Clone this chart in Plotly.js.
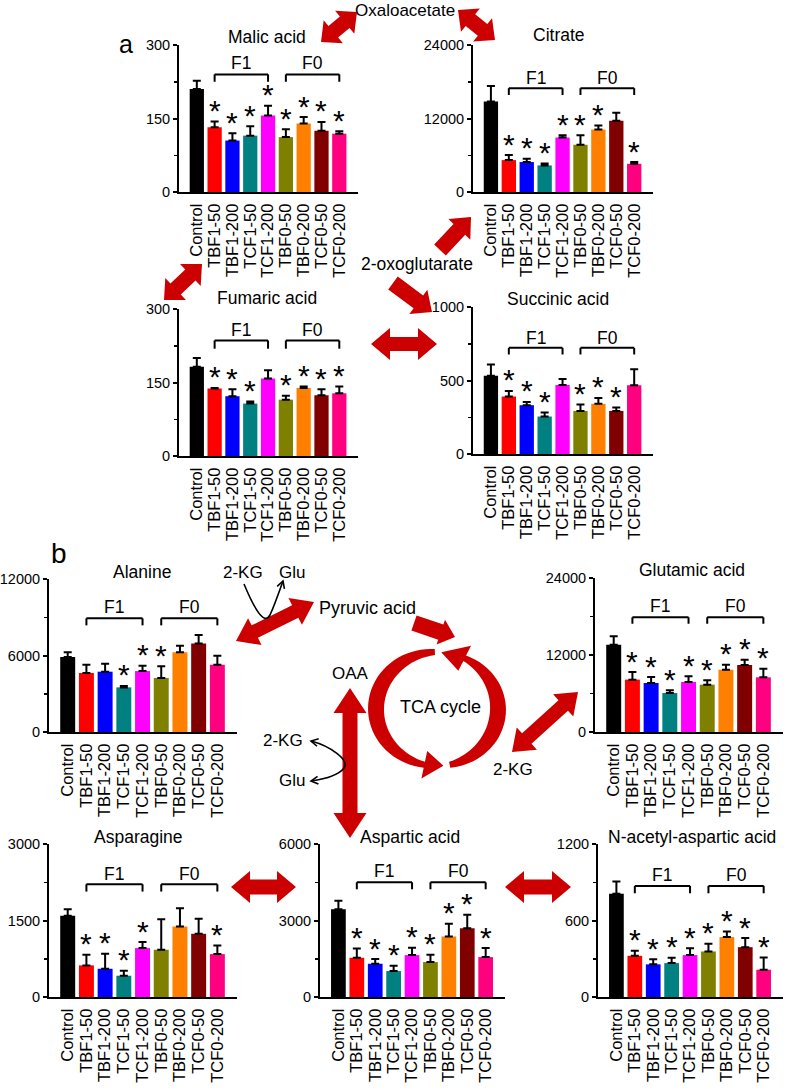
<!DOCTYPE html>
<html><head><meta charset="utf-8">
<script src="https://cdn.plot.ly/plotly-3.0.1.min.js"></script>
<style>html,body{margin:0;padding:0;background:#fff}#chart{width:787px;height:1088px}</style>
</head><body><div id="chart"></div>
<script>
// ---------- data ----------
const categories = ['Control','TBF1-50','TBF1-200','TCF1-50','TCF1-200','TBF0-50','TBF0-200','TCF0-50','TCF0-200'];
const barColors = ['#000000','#ff0000','#0000ff','#008080','#ff00ff','#808000','#ff8000','#800000','#ff0080'];

const malicMean = [210,132,105,115,156,112,140,125,119];
const malicErr  = [17,12,15,19,20,16,13,18,5];
const malicSig  = [0,1,1,1,1,1,1,1,1];

const citrateMean = [14770,5210,4890,4340,8900,7710,10200,11620,4610];
const citrateErr  = [2550,820,540,330,380,1570,660,1300,280];
const citrateSig  = [0,1,1,1,1,1,1,0,1];

const fumaricMean = [182,138,122,107,158,115,139,124,128];
const fumaricErr  = [18,1,14,4,17,8,3,12,14];
const fumaricSig  = [0,1,1,1,0,1,1,1,1];

const succinicMean = [533,391,332,255,470,293,341,293,467];
const succinicErr  = [76,38,22,27,40,43,40,23,109];
const succinicSig  = [0,1,1,1,0,1,1,1,0];

const alanineMean = [5880,4630,4730,3500,4780,4240,6250,6950,5280];
const alanineErr  = [370,650,630,110,420,910,520,660,710];
const alanineSig  = [0,0,0,1,1,1,0,0,0];

const glutamicMean = [13610,8160,7640,6080,7790,7380,9710,10440,8520];
const glutamicErr  = [1300,1190,930,410,890,670,780,830,1350];
const glutamicSig  = [0,1,1,1,1,1,1,1,1];

const asparagineMean = [1591,620,554,417,959,926,1383,1239,841];
const asparagineErr  = [131,208,294,98,117,600,358,294,170];
const asparagineSig  = [0,1,1,1,1,0,0,0,1];

const asparticMean = [3443,1539,1304,1017,1643,1370,2374,2700,1565];
const asparticErr  = [327,365,183,209,287,286,496,522,352];
const asparticSig  = [0,1,1,1,1,1,1,1,1];

const naaMean = [809,323,256,266,329,357,470,391,214];
const naaErr  = [96,40,41,42,54,60,44,71,96];
const naaSig  = [0,1,1,1,1,1,1,1,1];

const groupLabels = ['F1','F0'];
const groupSpans = [[1,4],[5,8]];

// ---------- layout helpers ----------
const W = 787, H = 1088;
const px = x => x / W, py = y => 1 - y / H;
const FONT = 'Liberation Sans, Arial, sans-serif';
const RED = '#cc0000';

const panels = [
  {title:'Malic acid', mean:malicMean, err:malicErr, sig:malicSig, ymax:300, box:[179,358,45,192], tpos:[267,37], br:[0.80,0.75,0.876]},
  {title:'Citrate', mean:citrateMean, err:citrateErr, sig:citrateSig, ymax:24000, box:[473,653,45,192], tpos:[559,35], br:[0.706,0.66,0.778]},
  {title:'Fumaric acid', mean:fumaricMean, err:fumaricErr, sig:fumaricSig, ymax:300, box:[179,358,309,456], tpos:[267,298], br:[0.786,0.73,0.859]},
  {title:'Succinic acid', mean:succinicMean, err:succinicErr, sig:succinicSig, ymax:1000, box:[473,653,307,454], tpos:[558,299], br:[0.722,0.677,0.79]},
  {title:'Alanine', mean:alanineMean, err:alanineErr, sig:alanineSig, ymax:12000, box:[49,237,579,732], tpos:[142,572], br:[0.743,0.697,0.82]},
  {title:'Glutamic acid', mean:glutamicMean, err:glutamicErr, sig:glutamicSig, ymax:24000, box:[595,783,578,732], tpos:[692,570], br:[0.745,0.703,0.82]},
  {title:'Asparagine', mean:asparagineMean, err:asparagineErr, sig:asparagineSig, ymax:3000, box:[49,237,844,997], tpos:[138,837], br:[0.737,0.689,0.807]},
  {title:'Aspartic acid', mean:asparticMean, err:asparticErr, sig:asparticSig, ymax:6000, box:[320,505,844,997], tpos:[410,837], br:[0.75,0.704,0.825]},
  {title:'N-acetyl-aspartic acid', mean:naaMean, err:naaErr, sig:naaSig, ymax:1200, box:[598,783,844,997], tpos:[692,837], br:[0.726,0.678,0.80]}
];

const traces = [];
const layout = {
  width: W, height: H, margin: {l:0, r:0, t:0, b:0}, autosize: false,
  paper_bgcolor: '#fff', plot_bgcolor: 'rgba(0,0,0,0)', showlegend: false,
  font: {family: FONT, color: '#000', size: 15},
  shapes: [], annotations: []
};

const idx = categories.map((_, i) => i);

panels.forEach((p, k) => {
  const n = k === 0 ? '' : String(k + 1);
  const xa = 'x' + n, ya = 'y' + n;
  traces.push({
    type: 'bar', x: idx, y: p.mean, xaxis: xa, yaxis: ya,
    marker: {color: barColors, line: {width: 0}},
    error_y: {type: 'data', symmetric: false, array: p.err, arrayminus: p.err.map(() => 0),
              color: '#000', thickness: 2, width: 4},
    hoverinfo: 'skip'
  });
  const [x0, x1, yt, yb] = p.box;
  layout['xaxis' + n] = {
    domain: [px(x0), px(x1)], anchor: ya, range: [-1, 9.05],
    tickmode: 'array', tickvals: idx, ticktext: categories, tickangle: -90,
    tickfont: {size: 16.5, family: FONT}, ticks: '', showline: true, linewidth: 2, linecolor: '#000',
    showgrid: false, zeroline: false, fixedrange: true, ticklabelstandoff: 3
  };
  layout['yaxis' + n] = {
    domain: [py(yb), py(yt)], anchor: xa, range: [0, p.ymax],
    tickmode: 'array', tickvals: [0, p.ymax / 2, p.ymax], ticktext: ['0', String(p.ymax / 2), String(p.ymax)],
    ticks: 'outside', ticklen: 4, tickwidth: 2, tickcolor: '#000',
    minor: {tickmode: 'array', tickvals: [p.ymax / 4, 3 * p.ymax / 4], ticks: 'outside', ticklen: 3, tickwidth: 1.5, tickcolor: '#000'},
    tickfont: {size: 14.5, family: FONT}, showline: true, linewidth: 2, linecolor: '#000',
    showgrid: false, zeroline: false, fixedrange: true, ticklabelstandoff: 0
  };
  // title
  layout.annotations.push({xref: 'paper', yref: 'paper', x: px(p.tpos[0]), y: py(p.tpos[1]),
    text: p.title, showarrow: false, xanchor: 'center', yanchor: 'middle', font: {size: 17.5, family: FONT}});
  // brackets
  groupSpans.forEach((s, g) => {
    const top = p.br[0] * p.ymax, leg = p.br[1] * p.ymax;
    const L = {type: 'line', xref: xa, yref: ya, line: {color: '#000', width: 2}};
    layout.shapes.push(Object.assign({}, L, {x0: s[0], x1: s[1], y0: top, y1: top}));
    layout.shapes.push(Object.assign({}, L, {x0: s[0], x1: s[0], y0: top, y1: leg}));
    layout.shapes.push(Object.assign({}, L, {x0: s[1], x1: s[1], y0: top, y1: leg}));
    layout.annotations.push({xref: xa, yref: ya, x: (s[0] + s[1]) / 2, y: p.br[2] * p.ymax,
      text: groupLabels[g], showarrow: false, yanchor: 'middle', font: {size: 17.5, family: FONT}});
  });
  // asterisks
  p.sig.forEach((s, i) => {
    if (!s) return;
    layout.annotations.push({xref: xa, yref: ya, x: i, y: p.mean[i] + p.err[i], text: '*',
      showarrow: false, yanchor: 'middle', yshift: 11, font: {size: 30, family: FONT}});
  });
});

// ---------- pathway decorations ----------
function P(x, y) { return px(x).toFixed(5) + ',' + py(y).toFixed(5); }
function poly(pts) { return 'M' + pts.map(q => P(q[0], q[1])).join('L') + 'Z'; }
function blockArrow(x1, y1, x2, y2, shaft, headW, headL, dbl) {
  const L = Math.hypot(x2 - x1, y2 - y1), dx = (x2 - x1) / L, dy = (y2 - y1) / L;
  const nx = -dy, ny = dx;
  const at = (bx, by, w) => [bx + nx * w / 2, by + ny * w / 2];
  const b2 = [x2 - dx * headL, y2 - dy * headL];
  let pts;
  if (dbl) {
    const b1 = [x1 + dx * headL, y1 + dy * headL];
    pts = [[x1, y1], at(b1[0], b1[1], headW), at(b1[0], b1[1], shaft), at(b2[0], b2[1], shaft), at(b2[0], b2[1], headW),
           [x2, y2], at(b2[0], b2[1], -headW), at(b2[0], b2[1], -shaft), at(b1[0], b1[1], -shaft), at(b1[0], b1[1], -headW)];
  } else {
    pts = [at(x1, y1, shaft), at(b2[0], b2[1], shaft), at(b2[0], b2[1], headW), [x2, y2],
           at(b2[0], b2[1], -headW), at(b2[0], b2[1], -shaft), at(x1, y1, -shaft)];
  }
  return {type: 'path', xref: 'paper', yref: 'paper', path: poly(pts), fillcolor: RED, line: {width: 0}, layer: 'above'};
}
function arcArrow(cx, cy, rx, ry, t0, t1, a0, ab, atip, hw) {
  const pt = (a, off) => { const r = a * Math.PI / 180; return [cx + (rx + off) * Math.cos(r), cy - (ry + off) * Math.sin(r)]; };
  const outer = [], inner = [];
  const N = 40;
  for (let i = 0; i <= N; i++) {
    const f = i / N, a = a0 + (ab - a0) * f, t = t0 + (t1 - t0) * Math.sin(Math.PI * f);
    outer.push(pt(a, t / 2)); inner.push(pt(a, -t / 2));
  }
  const pts = outer.concat([pt(ab, hw / 2), pt(atip, 0), pt(ab, -hw / 2)]).concat(inner.reverse());
  return {type: 'path', xref: 'paper', yref: 'paper', path: poly(pts), fillcolor: RED, line: {width: 0}, layer: 'above'};
}
function curve(segs) {
  let d = 'M' + P(segs[0][0], segs[0][1]);
  for (let i = 1; i < segs.length; i += 3) d += 'C' + P(...segs[i]) + ' ' + P(...segs[i + 1]) + ' ' + P(...segs[i + 2]);
  return {type: 'path', xref: 'paper', yref: 'paper', path: d, line: {color: '#000', width: 1.6}, layer: 'above'};
}
function headLines(tx, ty, fx, fy) {
  const L = Math.hypot(tx - fx, ty - fy), dx = (tx - fx) / L, dy = (ty - fy) / L, s = 8, a = 0.5;
  const c = Math.cos(a), sn = Math.sin(a);
  const r1 = [tx - s * (dx * c - dy * sn), ty - s * (dy * c + dx * sn)];
  const r2 = [tx - s * (dx * c + dy * sn), ty - s * (dy * c - dx * sn)];
  return {type: 'path', xref: 'paper', yref: 'paper', path: 'M' + P(...r1) + 'L' + P(tx, ty) + 'L' + P(...r2),
          line: {color: '#000', width: 1.6}, layer: 'above'};
}

layout.shapes.push(
  blockArrow(321, 42, 357, 12, 15, 30, 16, true),
  blockArrow(458, 10, 495, 40, 15, 30, 16, true),
  blockArrow(164, 300, 202, 264, 15, 30, 16, true),
  blockArrow(440, 250, 471, 217, 16, 30, 17, false),
  blockArrow(393, 283, 432, 312, 16, 30, 17, false),
  blockArrow(371, 344, 437, 344, 14, 32, 19, true),
  blockArrow(236, 641, 314, 602, 14, 30, 21, true),
  blockArrow(414, 623, 455, 637, 16, 26, 15, false),
  arcArrow(437, 709, 61, 57, 6, 16, 92, 258, 276, 28),
  arcArrow(437, 709, 61, 57, 6, 16, 282, 423, 446, 28),
  blockArrow(350, 688, 350, 838, 15, 33, 25, true),
  blockArrow(512, 752, 578, 692, 14, 30, 20, true),
  blockArrow(231, 887, 296, 887, 15, 32, 19, true),
  blockArrow(505, 887, 571, 887, 15, 32, 19, true),
  curve([[244, 584], [254, 608], [264, 626], [270, 615], [275, 604], [279, 592], [283, 581]]),
  headLines(283, 581, 280, 590),
  curve([[311, 741], [330, 746], [350, 760], [344, 768], [338, 776], [325, 779], [311, 781]]),
  headLines(311, 741, 320, 743),
  headLines(311, 781, 320, 780)
);

const txt = (x, y, t, s) => ({xref: 'paper', yref: 'paper', x: px(x), y: py(y), text: t, showarrow: false,
  xanchor: 'center', yanchor: 'middle', font: {size: s || 17, family: FONT}});
layout.annotations.push(
  {xref: 'paper', yref: 'paper', x: px(405), y: 1, text: 'Oxaloacetate', showarrow: false,
   xanchor: 'center', yanchor: 'top', borderpad: 0, font: {size: 17, family: FONT}},
  txt(417, 264, '2-oxoglutarate', 17.5),
  txt(126, 44, 'a', 25),
  txt(59, 553, 'b', 28),
  txt(243, 572, '2-KG', 17),
  txt(292, 572, 'Glu', 17),
  txt(367, 608, 'Pyruvic acid', 18),
  txt(350, 673, 'OAA', 17),
  txt(440, 707, 'TCA cycle', 18),
  txt(283, 740, '2-KG', 17),
  txt(292, 780, 'Glu', 17),
  txt(513, 769, '2-KG', 17)
);

Plotly.newPlot('chart', traces, layout, {staticPlot: true, displayModeBar: false});
</script></body></html>
